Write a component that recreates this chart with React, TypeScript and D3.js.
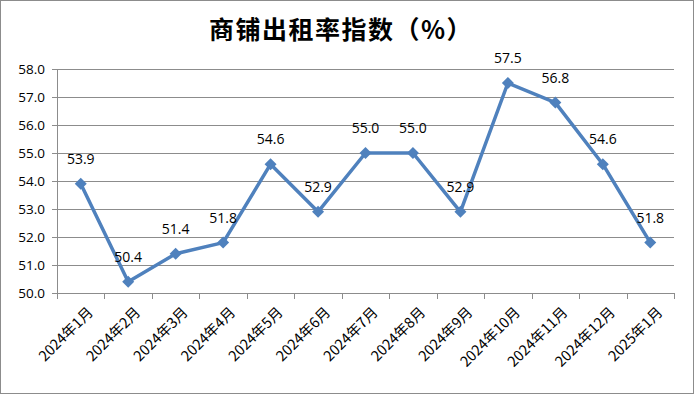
import * as d3 from "d3";
import { useEffect, useRef } from "react";

const months = [
  "2024年1月", "2024年2月", "2024年3月", "2024年4月", "2024年5月", "2024年6月",
  "2024年7月", "2024年8月", "2024年9月", "2024年10月", "2024年11月", "2024年12月",
  "2025年1月",
];
const rates = [53.9, 50.4, 51.4, 51.8, 54.6, 52.9, 55.0, 55.0, 52.9, 57.5, 56.8, 54.6, 51.8];
const yTicks = [50, 51, 52, 53, 54, 55, 56, 57, 58];

export default function App() {
  const ref = useRef<SVGSVGElement | null>(null);

  useEffect(() => {
    document.body.style.margin = "0";
    const el = ref.current;
    if (!el) return;
    const svg = d3.select(el);
    svg.selectAll("*").remove();

    const W = 694;
    const H = 394;
    const left = 57, right = 674, top = 69, bottom = 293;
    const grid = "#8c8c8c";
    const cjk = "'Noto Sans CJK SC', sans-serif";
    const num = "'Open Sans', 'Noto Sans', sans-serif";

    svg.append("rect")
      .attr("x", 0.5).attr("y", 0.5)
      .attr("width", W - 1).attr("height", H - 1)
      .attr("fill", "#fff").attr("stroke", grid);

    const x = d3.scaleBand().domain(months).range([left, right]);
    const y = d3.scaleLinear().domain([50, 58]).range([bottom, top]);

    svg.append("text")
      .attr("x", 341).attr("y", 39)
      .attr("text-anchor", "middle")
      .attr("font-family", cjk).attr("font-weight", "bold")
      .attr("font-size", 25).attr("letter-spacing", 1.5).attr("fill", "#000")
      .text("商铺出租率指数（%）");

    // horizontal grid
    svg.append("g").selectAll("line")
      .data(yTicks)
      .join("line")
      .attr("x1", left - 5).attr("x2", right)
      .attr("y1", (d) => Math.round(y(d)) + 0.5)
      .attr("y2", (d) => Math.round(y(d)) + 0.5)
      .attr("stroke", grid);

    svg.append("g").selectAll("text")
      .data(yTicks)
      .join("text")
      .attr("x", left - 12)
      .attr("y", (d) => y(d) + 5)
      .attr("text-anchor", "end")
      .attr("font-family", num).attr("font-size", 13.5).attr("fill", "#000")
      .text((d) => d.toFixed(1));

    // y axis line
    svg.append("line")
      .attr("x1", left + 0.5).attr("x2", left + 0.5)
      .attr("y1", top).attr("y2", bottom)
      .attr("stroke", grid);

    // x ticks at category boundaries
    const bounds = months.map((m) => x(m) ?? 0).concat([right]);
    svg.append("g").selectAll("line")
      .data(bounds)
      .join("line")
      .attr("x1", (d) => Math.round(d) + 0.5).attr("x2", (d) => Math.round(d) + 0.5)
      .attr("y1", bottom).attr("y2", bottom + 6)
      .attr("stroke", grid);

    const cx = (m: string) => (x(m) ?? 0) + x.bandwidth() / 2;

    svg.append("g").selectAll("text")
      .data(months)
      .join("text")
      .attr("transform", (d) => `translate(${cx(d) + 6},${bottom + 13}) rotate(-45)`)
      .attr("text-anchor", "end")
      .attr("dy", "0.7em")
      .attr("font-family", cjk).attr("font-size", 14.5).attr("fill", "#000")
      .text((d) => d);

    const line = d3.line<number>()
      .x((_, i) => cx(months[i]))
      .y((d) => y(d));

    svg.append("path")
      .datum(rates)
      .attr("d", line)
      .attr("fill", "none")
      .attr("stroke", "#4f81bd")
      .attr("stroke-width", 3.5)
      .attr("stroke-linejoin", "round");

    svg.append("g").selectAll("path")
      .data(rates)
      .join("path")
      .attr("d", d3.symbol(d3.symbolSquare, 72))
      .attr("transform", (d, i) => `translate(${cx(months[i])},${y(d)}) rotate(45)`)
      .attr("fill", "#4f81bd");

    svg.append("g").selectAll("text")
      .data(rates)
      .join("text")
      .attr("x", (_, i) => cx(months[i]))
      .attr("y", (d) => y(d) - 20)
      .attr("text-anchor", "middle")
      .attr("font-family", num).attr("font-size", 14).attr("fill", "#000")
      .text((d) => d.toFixed(1));
  }, []);

  return <svg ref={ref} width={694} height={394} style={{ display: "block" }} />;
}
